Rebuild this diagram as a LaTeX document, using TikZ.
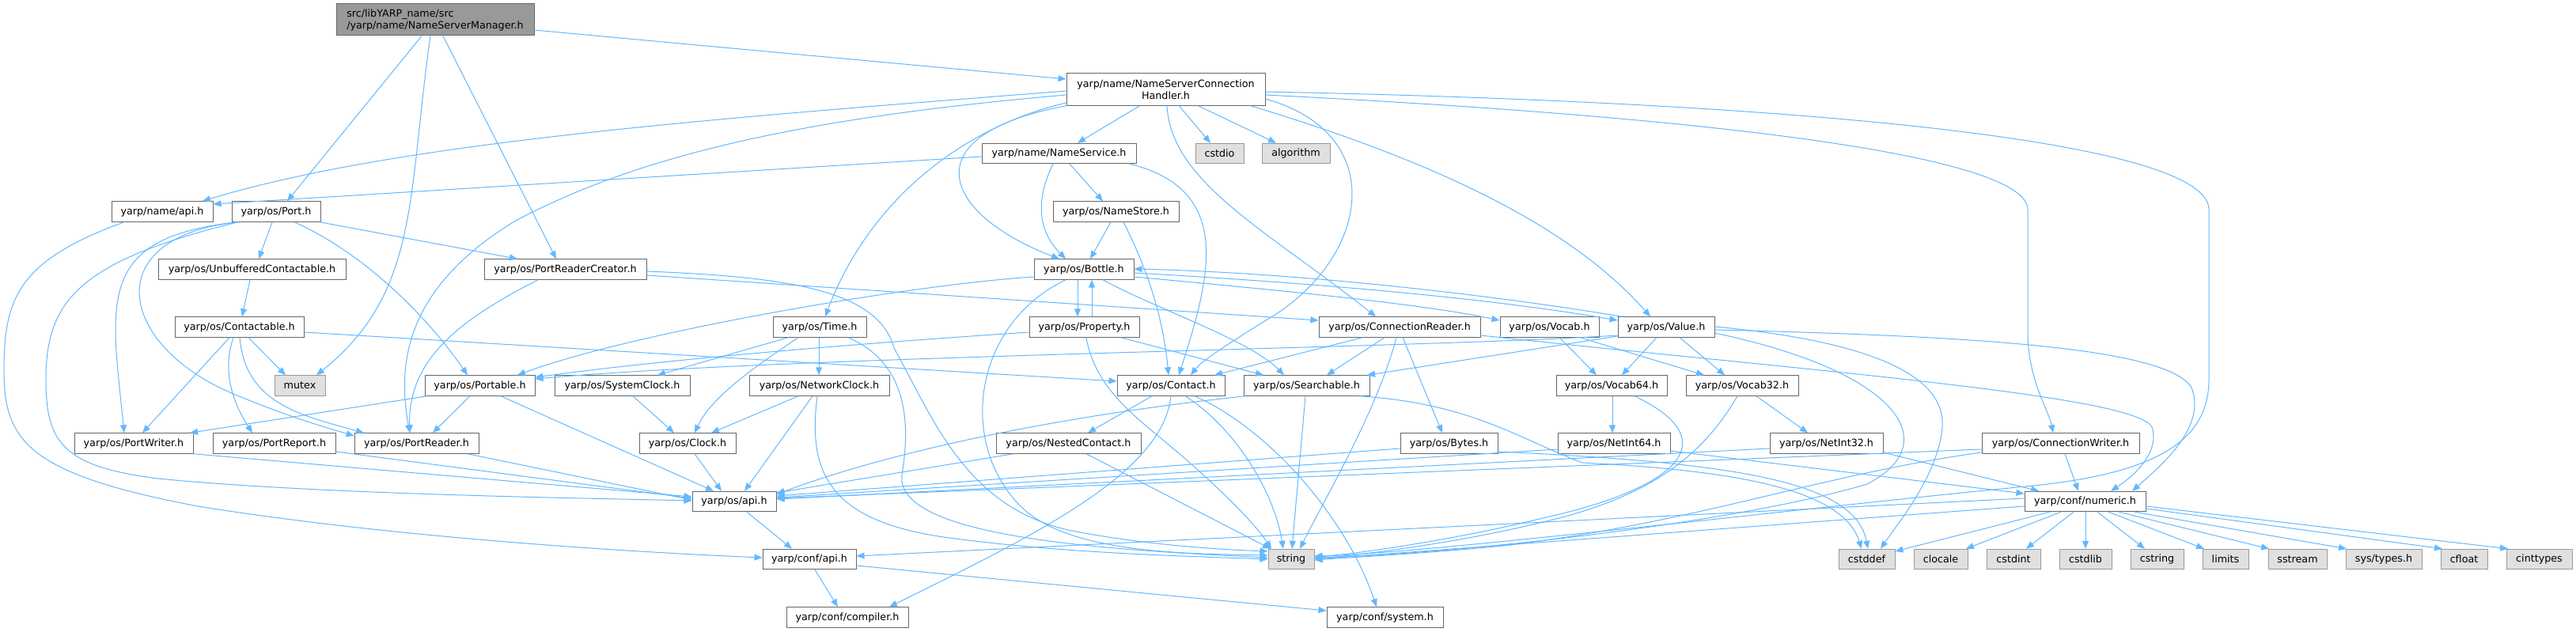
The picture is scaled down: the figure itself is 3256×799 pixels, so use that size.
\documentclass[tikz,border=0pt]{standalone}
\usepackage{fontspec}
\setmainfont{DejaVu Sans}
\usetikzlibrary{arrows.meta}
\definecolor{edgec}{HTML}{63B8FF}
\definecolor{nborder}{HTML}{666666}
\definecolor{sborder}{HTML}{999999}
\definecolor{sfill}{HTML}{E0E0E0}
\definecolor{rfill}{HTML}{999999}
\begin{document}
\begin{tikzpicture}[x=0.75pt,y=-0.75pt,
  nd/.style={draw=nborder, fill=white, line width=0.75pt, inner sep=0pt, minimum height=19.1pt, font=\fontsize{9.54}{11.25}\selectfont, text=black},
  sys/.style={nd, draw=sborder, fill=sfill},
  rootbox/.style={nd, fill=rfill, minimum height=30pt, align=left},
  bw/.style={minimum width=#1*0.75pt},
  edg/.style={draw=edgec, line width=0.75pt, -{Triangle[length=7.5pt,width=6pt]}}
]
\fill[white] (0,0) rectangle (3256,799);
\useasboundingbox (0,0) rectangle (3256,799);

% ---------- nodes ----------
\node[rootbox, bw=250] (nsm) at (550,25) {src/libYARP\_name/src\\/yarp/name/NameServerManager.h};
\node[nd, bw=251, minimum height=30pt, align=center] (nsch) at (1473.5,113) {yarp/name/NameServerConnection\\Handler.h};
\node[nd, bw=128] (nameapi) at (205,267.5) {yarp/name/api.h};
\node[nd, bw=112] (port) at (349,267.5) {yarp/os/Port.h};
\node[nd, bw=195] (nameservice) at (1338.5,194) {yarp/name/NameService.h};
\node[sys, bw=61] (cstdio) at (1541.5,194) {cstdio};
\node[sys, bw=86] (algorithm) at (1638,194) {algorithm};
\node[nd, bw=159] (namestore) at (1410.5,267.5) {yarp/os/NameStore.h};
\node[nd, bw=237] (unbuff) at (318.5,340.5) {yarp/os/UnbufferedContactable.h};
\node[nd, bw=205] (prc) at (714.5,340.5) {yarp/os/PortReaderCreator.h};
\node[nd, bw=126] (bottle) at (1370,340.5) {yarp/os/Bottle.h};
\node[nd, bw=163] (contactable) at (302.5,413.5) {yarp/os/Contactable.h};
\node[nd, bw=118] (time) at (1036,413.5) {yarp/os/Time.h};
\node[nd, bw=139] (property) at (1370.5,413.5) {yarp/os/Property.h};
\node[nd, bw=204] (connreader) at (1769,413.5) {yarp/os/ConnectionReader.h};
\node[nd, bw=125] (vocab) at (1958.5,413.5) {yarp/os/Vocab.h};
\node[nd, bw=122] (value) at (2106,413.5) {yarp/os/Value.h};
\node[sys, bw=64] (mutex) at (379,487.5) {mutex};
\node[nd, bw=139] (portable) at (606.5,487.5) {yarp/os/Portable.h};
\node[nd, bw=171] (sysclock) at (786.5,487.5) {yarp/os/SystemClock.h};
\node[nd, bw=177] (netclock) at (1035.5,487.5) {yarp/os/NetworkClock.h};
\node[nd, bw=136] (contact) at (1480,487.5) {yarp/os/Contact.h};
\node[nd, bw=159] (searchable) at (1651.5,487.5) {yarp/os/Searchable.h};
\node[nd, bw=140] (vocab64) at (2037,487.5) {yarp/os/Vocab64.h};
\node[nd, bw=142] (vocab32) at (2202,487.5) {yarp/os/Vocab32.h};
\node[nd, bw=150] (portwriter) at (169,560.5) {yarp/os/PortWriter.h};
\node[nd, bw=155] (portreport) at (346.5,560.5) {yarp/os/PortReport.h};
\node[nd, bw=157] (portreader) at (526.5,560.5) {yarp/os/PortReader.h};
\node[nd, bw=122] (clock) at (869,560.5) {yarp/os/Clock.h};
\node[nd, bw=183] (nested) at (1350.5,560.5) {yarp/os/NestedContact.h};
\node[nd, bw=123] (bytes) at (1831.5,560.5) {yarp/os/Bytes.h};
\node[nd, bw=142] (netint64) at (2040,560.5) {yarp/os/NetInt64.h};
\node[nd, bw=143] (netint32) at (2308.5,560.5) {yarp/os/NetInt32.h};
\node[nd, bw=199] (connwriter) at (2604.5,560.5) {yarp/os/ConnectionWriter.h};
\node[nd, bw=106] (osapi) at (928,634) {yarp/os/api.h};
\node[nd, bw=153] (numeric) at (2635.5,634) {yarp/conf/numeric.h};
\node[nd, bw=118] (confapi) at (1023,707) {yarp/conf/api.h};
\node[sys, bw=58] (string) at (1632,707) {string};
\node[sys, bw=71] (cstddef) at (2359.5,707) {cstddef};
\node[sys, bw=68] (clocale) at (2453,707) {clocale};
\node[sys, bw=68] (cstdint) at (2545,707) {cstdint};
\node[sys, bw=66] (cstdlib) at (2636,707) {cstdlib};
\node[sys, bw=67] (cstring) at (2726.5,707) {cstring};
\node[sys, bw=58] (limits) at (2813,707) {limits};
\node[sys, bw=74] (sstream) at (2904,707) {sstream};
\node[sys, bw=96] (systypes) at (3013,707) {sys/types.h};
\node[sys, bw=59] (cfloat) at (3114.5,707) {cfloat};
\node[sys, bw=83] (cinttypes) at (3209.5,707) {cinttypes};
\node[nd, bw=154] (compiler) at (1071,780.5) {yarp/conf/compiler.h};
\node[nd, bw=147] (system) at (1750.5,780.5) {yarp/conf/system.h};

% ---------- edges ----------
% NameServerManager
\draw[edg] (nsm.east |- 0,38) -- (nsch.west |- 0,100);
\draw[edg] (nsm.south -| 533,0) -- (port.north -| 363,0);
\draw[edg] (nsm.south -| 544,0) .. controls (515,250) and (530,370) .. (mutex.north -| 400,0);
\draw[edg] (nsm.south -| 560,0) -- (prc.north -| 703,0);
% NameServerConnectionHandler
\draw[edg] (nsch.west |- 0,115) .. controls (900,150) and (500,180) .. (nameapi.north -| 256,0);
\draw[edg] (nsch.west |- 0,120) .. controls (1000,150) and (800,200) .. (650,280) .. controls (520,360) and (500,450) .. (portreader.north -| 518,0);
\draw[edg] (nsch.west |- 0,130) .. controls (1220,160) and (1100,250) .. (time.north -| 1043,0);
\draw[edg] (nsch.south -| 1349,0) .. controls (1150,170) and (1190,270) .. (bottle.north -| 1339,0);
\draw[edg] (nsch.south -| 1441,0) -- (nameservice.north -| 1362,0);
\draw[edg] (nsch.south -| 1490,0) -- (cstdio.north -| 1530,0);
\draw[edg] (nsch.south -| 1514,0) -- (algorithm.north -| 1613,0);
\draw[edg] (nsch.east |- 0,125) .. controls (1760,170) and (1730,330) .. (1600,405) .. controls (1560,430) and (1520,455) .. (contact.north -| 1505,0);
\draw[edg] (nsch.south -| 1475,0) .. controls (1480,230) and (1600,290) .. (connreader.north -| 1739,0);
\draw[edg] (nsch.south -| 1580,0) .. controls (1800,200) and (1980,280) .. (value.north -| 2086,0);
\draw[edg] (nsch.east |- 0,120) .. controls (2200,150) and (2563,200) .. (2563,265) -- (2563,420) .. controls (2563,480) and (2590,520) .. (connwriter.north -| 2595,0);
\draw[edg] (nsch.east |- 0,116) .. controls (2300,130) and (2792,180) .. (2792,265) -- (2792,480) .. controls (2792,560) and (2720,600) .. (2560,615) .. controls (2300,640) and (1800,700) .. (string.east |- 0,703);
% NameService
\draw[edg] (nameservice.west |- 0,198) -- (nameapi.east |- 0,258);
\draw[edg] (nameservice.south -| 1352,0) -- (namestore.north -| 1394,0);
\draw[edg] (nameservice.south -| 1331,0) .. controls (1310,250) and (1310,290) .. (bottle.north -| 1347,0);
\draw[edg] (nameservice.south -| 1428,0) .. controls (1560,240) and (1530,350) .. (contact.north -| 1490,0);
% NameStore
\draw[edg] (namestore.south -| 1404,0) -- (bottle.north -| 1378,0);
\draw[edg] (namestore.south -| 1420,0) .. controls (1450,340) and (1470,400) .. (contact.north -| 1477,0);
% Port
\draw[edg] (port.south -| 344,0) -- (unbuff.north -| 327,0);
\draw[edg] (port.south -| 404,0) -- (prc.north -| 654,0);
\draw[edg] (port.south -| 372,0) .. controls (460,320) and (540,400) .. (portable.north -| 591,0);
\draw[edg] (port.south -| 301,0) .. controls (120,300) and (140,380) .. (portwriter.north -| 157,0);
\draw[edg] (port.south -| 301,0) .. controls (120,300) and (150,440) .. (300,500) .. controls (360,525) and (410,540) .. (portreader.west |- 0,551);
\draw[edg] (port.south -| 301,0) .. controls (100,330) and (58,380) .. (58,480) .. controls (58,560) and (80,590) .. (200,605) .. controls (400,625) and (750,630) .. (osapi.west |- 0,633);
% name/api.h
\draw[edg] (nameapi.south -| 157,0) .. controls (20,330) and (5,380) .. (5,470) .. controls (5,560) and (40,600) .. (250,640) .. controls (500,680) and (800,698) .. (confapi.west |- 0,705);
% UnbufferedContactable
\draw[edg] (unbuff.south -| 316,0) -- (contactable.north -| 306,0);
% PortReaderCreator
\draw[edg] (prc.south -| 680,0) .. controls (590,400) and (515,450) .. (portreader.north -| 518,0);
\draw[edg] (prc.east |- 0,348) -- (connreader.west |- 0,405);
\draw[edg] (prc.east |- 0,343) .. controls (990,350) and (1110,365) .. (1130,440) .. controls (1180,530) and (1220,640) .. (1350,670) .. controls (1450,690) and (1550,695) .. (string.west |- 0,697);
% Contactable
\draw[edg] (contactable.south -| 314,0) -- (mutex.north -| 361,0);
\draw[edg] (contactable.south -| 290,0) -- (portwriter.north -| 180,0);
\draw[edg] (contactable.south -| 295,0) .. controls (280,470) and (295,510) .. (portreport.north -| 319,0);
\draw[edg] (contactable.south -| 303,0) .. controls (310,510) and (380,525) .. (portreader.north -| 460,0);
\draw[edg] (contactable.east |- 0,420) -- (contact.west |- 0,482);
% Portable
\draw[edg] (portable.south -| 540,0) -- (portwriter.north -| 240,0);
\draw[edg] (portable.south -| 594,0) -- (portreader.north -| 547,0);
\draw[edg] (portable.south -| 633,0) -- (osapi.north -| 902,0);
% Port* -> os/api.h
\draw[edg] (portwriter.south -| 244,0) -- (osapi.west |- 0,628);
\draw[edg] (portreport.east |- 0,571) -- (osapi.west |- 0,630);
\draw[edg] (portreader.south -| 591,0) -- (osapi.west |- 0,632);
% Time
\draw[edg] (time.south -| 996,0) -- (sysclock.north -| 831,0);
\draw[edg] (time.south -| 1009,0) .. controls (960,460) and (900,500) .. (clock.north -| 878,0);
\draw[edg] (time.south -| 1035,0) -- (netclock.north -| 1035,0);
\draw[edg] (time.south -| 1072,0) .. controls (1150,460) and (1150,540) .. (1140,600) .. controls (1130,680) and (1400,695) .. (string.west |- 0,705);
% Clocks
\draw[edg] (sysclock.south -| 800,0) -- (clock.north -| 852,0);
\draw[edg] (netclock.south -| 1009,0) -- (clock.north -| 899,0);
\draw[edg] (netclock.south -| 1027,0) -- (osapi.north -| 941,0);
\draw[edg] (netclock.south -| 1033,0) .. controls (1020,600) and (1050,660) .. (1200,680) .. controls (1350,700) and (1500,703) .. (string.west |- 0,707);
\draw[edg] (clock.south -| 878,0) -- (osapi.north -| 912,0);
% api
\draw[edg] (osapi.south -| 944,0) -- (confapi.north -| 1001,0);
\draw[edg] (confapi.south -| 1030,0) -- (compiler.north -| 1059,0);
\draw[edg] (confapi.east |- 0,715) -- (system.west |- 0,772);
% Property / Bottle
\draw[edg] (property.north -| 1380,0) -- (bottle.south -| 1380,0);
\draw[edg] (bottle.south -| 1362,0) -- (property.north -| 1362,0);
\draw[edg] (property.west |- 0,420) .. controls (1000,440) and (800,460) .. (portable.east |- 0,477);
\draw[edg] (property.south -| 1417,0) -- (searchable.north -| 1597,0);
\draw[edg] (property.south -| 1373,0) .. controls (1382,480) and (1420,515) .. (1460,548) .. controls (1530,605) and (1585,660) .. (string.north -| 1607,0);
\draw[edg] (bottle.west |- 0,350) .. controls (1150,360) and (800,420) .. (portable.north -| 654,0);
\draw[edg] (bottle.south -| 1394,0) .. controls (1460,390) and (1580,430) .. (searchable.north -| 1623,0);
\draw[edg] (bottle.east |- 0,345) .. controls (1700,360) and (1900,380) .. (value.west |- 0,405);
\draw[edg] (bottle.east |- 0,350) .. controls (1650,370) and (1800,385) .. (vocab.west |- 0,405);
\draw[edg] (bottle.south -| 1347,0) .. controls (1230,410) and (1210,560) .. (1290,640) .. controls (1350,700) and (1500,700) .. (string.west |- 0,702);
\draw[edg] (value.north -| 2050,0) .. controls (1900,375) and (1650,345) .. (bottle.east |- 0,340);
% ConnectionReader
\draw[edg] (connreader.south -| 1722,0) -- (contact.north -| 1535,0);
\draw[edg] (connreader.south -| 1750,0) -- (searchable.north -| 1677,0);
\draw[edg] (connreader.south -| 1765,0) .. controls (1740,520) and (1680,620) .. (string.north -| 1643,0);
\draw[edg] (connreader.south -| 1773,0) -- (bytes.north -| 1823,0);
\draw[edg] (connreader.east |- 0,424) .. controls (2300,470) and (2700,500) .. (2720,540) .. controls (2730,570) and (2700,600) .. (numeric.north -| 2668,0);
% Vocab / Value
\draw[edg] (vocab.south -| 1971,0) -- (vocab64.north -| 2018,0);
\draw[edg] (vocab.south -| 1997,0) -- (vocab32.north -| 2154,0);
\draw[edg] (value.south -| 2094,0) -- (vocab64.north -| 2050,0);
\draw[edg] (value.south -| 2123,0) -- (vocab32.north -| 2180,0);
\draw[edg] (value.west |- 0,425) -- (searchable.north -| 1728,0);
\draw[edg] (value.west |- 0,424) .. controls (1800,440) and (1000,450) .. (portable.east |- 0,479);
\draw[edg] (value.east |- 0,417) .. controls (2500,425) and (2740,440) .. (2770,490) .. controls (2790,540) and (2730,590) .. (numeric.north -| 2695,0);
\draw[edg] (value.east |- 0,413) .. controls (2350,430) and (2460,470) .. (2455,540) .. controls (2450,600) and (2400,660) .. (cstddef.north -| 2377,0);
\draw[edg] (value.east |- 0,421) .. controls (2400,470) and (2460,560) .. (2360,612) .. controls (2200,660) and (1850,700) .. (string.east |- 0,705);
% Searchable
\draw[edg] (searchable.south -| 1574,0) .. controls (1300,530) and (1100,580) .. (osapi.east |- 0,625);
\draw[edg] (searchable.south -| 1650,0) -- (string.north -| 1633,0);
\draw[edg] (searchable.south -| 1718,0) .. controls (1860,510) and (1920,555) .. (2000,585) .. controls (2200,595) and (2330,620) .. (cstddef.north -| 2353,0);
% Bytes
\draw[edg] (bytes.west |- 0,567) -- (osapi.east |- 0,627);
\draw[edg] (bytes.east |- 0,571) .. controls (2200,585) and (2345,610) .. (cstddef.north -| 2361,0);
% NetInt / Vocab64 / Vocab32
\draw[edg] (netint64.west |- 0,568) -- (osapi.east |- 0,629);
\draw[edg] (netint64.east |- 0,570) -- (numeric.west |- 0,624);
\draw[edg] (netint32.west |- 0,567) -- (osapi.east |- 0,631);
\draw[edg] (netint32.east |- 0,572) -- (numeric.north -| 2577,0);
\draw[edg] (vocab64.south -| 2038,0) -- (netint64.north -| 2038,0);
\draw[edg] (vocab64.south -| 2066,0) .. controls (2190,560) and (2110,620) .. (1950,655) .. controls (1850,680) and (1720,700) .. (string.east |- 0,704);
\draw[edg] (vocab32.south -| 2220,0) -- (netint32.north -| 2285,0);
\draw[edg] (vocab32.south -| 2196,0) .. controls (2150,580) and (2080,630) .. (1950,660) .. controls (1850,685) and (1720,702) .. (string.east |- 0,706);
% Contact
\draw[edg] (contact.south -| 1456,0) -- (nested.north -| 1375,0);
\draw[edg] (contact.south -| 1498,0) .. controls (1560,540) and (1610,620) .. (string.north -| 1622,0);
\draw[edg] (contact.south -| 1510,0) .. controls (1600,540) and (1700,650) .. (system.north -| 1740,0);
\draw[edg] (contact.south -| 1480,0) .. controls (1470,600) and (1300,680) .. (compiler.north -| 1124,0);
% NestedContact
\draw[edg] (nested.south -| 1281,0) -- (osapi.east |- 0,623);
\draw[edg] (nested.south -| 1373,0) -- (string.north -| 1606,0);
% ConnectionWriter
\draw[edg] (connwriter.west |- 0,568) -- (osapi.east |- 0,630);
\draw[edg] (connwriter.west |- 0,572) .. controls (2300,600) and (2150,660) .. (1900,690) .. controls (1800,700) and (1700,705) .. (string.east |- 0,708);
\draw[edg] (connwriter.south -| 2610,0) -- (numeric.north -| 2627,0);
% numeric
\draw[edg] (numeric.south -| 2591,0) -- (cstddef.east |- 0,697);
\draw[edg] (numeric.south -| 2605,0) -- (clocale.north -| 2485,0);
\draw[edg] (numeric.south -| 2621,0) -- (cstdint.north -| 2561,0);
\draw[edg] (numeric.south -| 2636,0) -- (cstdlib.north -| 2636,0);
\draw[edg] (numeric.south -| 2651,0) -- (cstring.north -| 2711,0);
\draw[edg] (numeric.south -| 2665,0) -- (limits.north -| 2786,0);
\draw[edg] (numeric.south -| 2678,0) -- (sstream.north -| 2868,0);
\draw[edg] (numeric.south -| 2698,0) -- (systypes.north -| 2966,0);
\draw[edg] (numeric.east |- 0,643) -- (cfloat.north -| 3087,0);
\draw[edg] (numeric.east |- 0,640) -- (cinttypes.north -| 3170,0);
\draw[edg] (numeric.west |- 0,640) -- (string.east |- 0,707);
\draw[edg] (numeric.west |- 0,630) -- (confapi.east |- 0,703);
\end{tikzpicture}
\end{document}
